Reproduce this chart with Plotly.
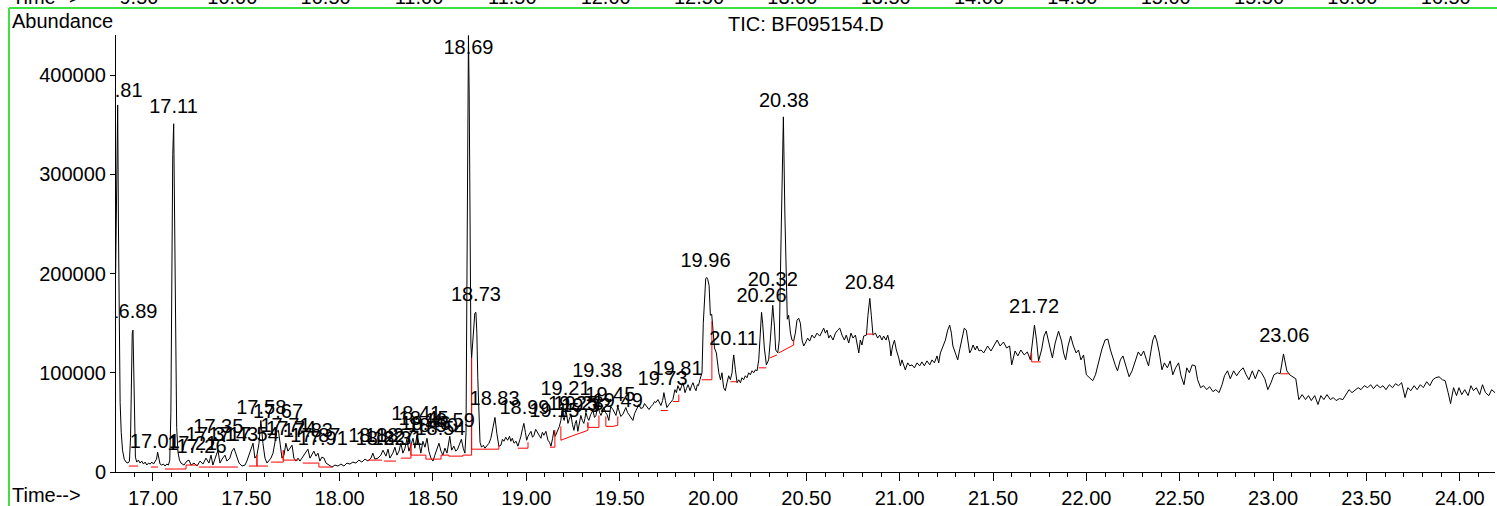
import plotly.graph_objects as go

# ---- TIC trace: (retention time [min], abundance [x1000]) ----
tic_a = [(16.800, 200), (16.806, 340), (16.811, 370), (16.815, 250), (16.819, 110), (16.824, 70),
         (16.830, 40), (16.837, 22), (16.846, 13), (16.856, 10), (16.866, 9), (16.874, 11),
         (16.880, 35), (16.885, 95), (16.889, 140), (16.893, 143), (16.897, 95), (16.901, 40),
         (16.906, 15), (16.913, 10), (16.922, 12), (16.931, 9), (16.940, 11), (16.949, 8),
         (16.958, 10), (16.967, 7), (16.976, 9), (16.985, 8), (16.994, 10), (17.003, 8),
         (17.012, 11), (17.019, 13), (17.025, 20), (17.031, 14), (17.038, 8), (17.047, 7),
         (17.056, 8), (17.065, 6), (17.074, 8), (17.083, 7), (17.090, 12), (17.096, 60),
         (17.101, 200), (17.106, 320), (17.111, 351), (17.116, 250), (17.121, 110), (17.127, 45),
         (17.134, 20), (17.142, 12)]

tic_b = [(17.150, 9), (17.166, 7), (17.182, 11), (17.193, 12), (17.204, 7), (17.220, 9),
         (17.236, 6), (17.252, 11), (17.268, 8), (17.284, 14), (17.300, 9), (17.311, 17),
         (17.321, 7), (17.332, 14), (17.348, 22), (17.359, 9), (17.370, 13), (17.386, 17),
         (17.396, 11), (17.412, 14), (17.423, 21), (17.434, 24), (17.445, 17), (17.461, 9),
         (17.477, 6), (17.493, 7), (17.503, 11), (17.514, 17), (17.525, 24), (17.536, 29),
         (17.546, 14), (17.557, 17), (17.568, 29), (17.578, 52), (17.589, 29), (17.600, 14),
         (17.611, 9), (17.621, 11), (17.632, 14), (17.643, 19), (17.653, 31), (17.664, 41),
         (17.672, 42), (17.680, 29), (17.691, 14), (17.702, 17), (17.712, 29), (17.723, 21),
         (17.734, 24), (17.745, 27), (17.755, 14), (17.766, 11), (17.777, 14), (17.787, 11),
         (17.798, 14), (17.809, 17), (17.819, 21), (17.830, 23), (17.841, 14), (17.852, 17),
         (17.862, 21), (17.873, 16), (17.884, 19), (17.894, 11), (17.905, 15), (17.916, 14),
         (17.927, 9), (17.943, 7)]

tic_c = [(17.959, 5), (17.975, 7), (17.991, 6), (18.007, 8), (18.023, 6), (18.039, 9),
         (18.055, 8), (18.071, 10), (18.087, 9), (18.103, 12), (18.119, 10), (18.136, 13),
         (18.152, 11), (18.168, 14), (18.178, 19), (18.189, 13), (18.205, 14), (18.221, 17),
         (18.232, 22), (18.248, 16), (18.259, 23), (18.269, 14), (18.285, 19), (18.296, 25),
         (18.307, 17), (18.318, 21), (18.328, 29), (18.339, 19), (18.350, 24), (18.360, 33),
         (18.371, 21), (18.382, 27), (18.393, 34), (18.403, 24), (18.414, 37), (18.425, 29),
         (18.435, 19), (18.446, 31), (18.457, 25), (18.468, 34), (18.478, 21), (18.489, 14),
         (18.500, 11), (18.510, 17), (18.521, 22), (18.532, 29), (18.543, 21), (18.553, 17),
         (18.564, 24), (18.575, 19), (18.590, 36), (18.600, 22), (18.612, 26), (18.622, 21),
         (18.632, 23), (18.642, 29), (18.652, 33), (18.662, 24), (18.671, 19)]

tic_d = [(18.677, 40), (18.682, 200), (18.686, 400), (18.690, 440), (18.694, 380), (18.698, 230),
         (18.703, 130), (18.707, 115), (18.712, 130), (18.718, 150), (18.724, 160), (18.730, 161),
         (18.735, 140), (18.740, 95), (18.746, 50), (18.752, 30), (18.760, 25), (18.770, 27),
         (18.778, 24), (18.789, 26), (18.800, 29), (18.810, 34), (18.821, 44), (18.832, 55),
         (18.842, 39), (18.853, 26), (18.864, 27), (18.872, 33), (18.880, 31), (18.890, 35),
         (18.900, 32), (18.910, 36), (18.917, 31), (18.925, 34), (18.934, 29), (18.945, 31),
         (18.955, 26), (18.963, 30), (18.971, 36), (18.980, 44), (18.987, 49), (18.995, 40),
         (19.002, 32), (19.009, 36), (19.017, 39), (19.025, 41), (19.033, 35), (19.041, 37),
         (19.050, 43), (19.062, 39), (19.070, 36), (19.078, 34), (19.086, 40), (19.094, 37),
         (19.105, 41), (19.116, 32), (19.124, 30), (19.132, 26), (19.141, 34), (19.148, 42),
         (19.155, 36), (19.162, 39), (19.170, 44), (19.177, 46), (19.185, 52), (19.191, 62),
         (19.197, 55), (19.203, 52), (19.212, 63), (19.218, 55), (19.223, 49), (19.230, 53),
         (19.239, 58), (19.247, 48), (19.255, 42), (19.262, 49), (19.268, 52), (19.276, 41),
         (19.284, 50), (19.292, 57), (19.300, 52), (19.308, 49), (19.314, 54), (19.319, 60),
         (19.327, 55), (19.335, 52), (19.345, 58), (19.357, 62), (19.365, 55), (19.373, 57),
         (19.383, 68), (19.392, 60), (19.400, 57), (19.408, 61), (19.416, 65), (19.424, 60),
         (19.432, 58), (19.442, 52), (19.452, 66), (19.464, 63), (19.472, 59), (19.480, 57),
         (19.490, 66), (19.496, 62), (19.506, 56), (19.517, 58), (19.525, 62), (19.533, 65),
         (19.542, 60), (19.550, 58), (19.560, 55), (19.571, 52), (19.580, 59), (19.587, 62),
         (19.595, 66), (19.603, 68), (19.613, 64), (19.625, 65), (19.633, 69), (19.641, 67),
         (19.650, 64), (19.657, 63), (19.668, 66), (19.678, 68), (19.687, 71), (19.694, 70),
         (19.705, 73), (19.713, 69), (19.721, 67), (19.730, 72), (19.737, 80), (19.745, 72),
         (19.753, 65), (19.764, 68), (19.775, 71), (19.785, 73), (19.796, 83), (19.804, 80),
         (19.812, 87), (19.818, 84), (19.823, 82), (19.831, 86), (19.839, 90), (19.845, 85),
         (19.850, 80), (19.858, 84), (19.866, 88), (19.872, 85), (19.877, 82), (19.885, 87),
         (19.893, 90), (19.901, 85), (19.909, 82), (19.916, 88), (19.922, 87), (19.930, 93),
         (19.936, 98)]

tic_e = [(19.941, 100), (19.948, 150), (19.954, 171), (19.961, 195), (19.967, 196), (19.972, 194),
         (19.979, 188), (19.986, 158), (19.993, 159), (20.000, 143), (20.008, 125), (20.018, 120),
         (20.024, 108), (20.031, 100), (20.040, 93), (20.048, 100), (20.057, 85), (20.066, 82),
         (20.075, 90), (20.084, 97), (20.093, 93), (20.102, 100), (20.106, 110), (20.111, 118),
         (20.120, 103), (20.129, 90), (20.138, 93), (20.147, 90), (20.155, 95), (20.164, 93),
         (20.173, 97), (20.182, 95), (20.191, 100), (20.200, 98), (20.209, 102), (20.218, 100),
         (20.227, 103), (20.236, 102), (20.245, 113), (20.254, 137), (20.260, 161), (20.266, 150),
         (20.275, 125), (20.286, 108), (20.298, 113), (20.307, 133), (20.314, 160), (20.320, 168),
         (20.329, 147), (20.336, 123), (20.347, 120), (20.355, 133), (20.366, 250), (20.377, 358),
         (20.385, 260), (20.392, 180), (20.398, 154), (20.405, 158), (20.415, 140), (20.423, 133),
         (20.432, 132), (20.441, 140), (20.450, 153), (20.459, 155), (20.468, 150), (20.477, 133),
         (20.486, 127), (20.495, 130), (20.507, 135), (20.518, 132), (20.530, 138), (20.543, 135),
         (20.557, 140), (20.572, 137), (20.584, 142), (20.593, 145), (20.602, 140), (20.611, 143),
         (20.620, 135), (20.629, 138), (20.643, 133), (20.656, 140), (20.668, 143), (20.679, 145),
         (20.691, 138), (20.704, 133), (20.714, 138), (20.727, 130), (20.739, 140), (20.750, 135),
         (20.763, 138), (20.772, 127), (20.781, 120), (20.789, 133), (20.798, 128), (20.807, 137),
         (20.822, 138), (20.830, 158), (20.840, 175), (20.848, 158), (20.857, 138), (20.870, 140),
         (20.882, 135), (20.893, 138), (20.905, 133), (20.914, 137), (20.927, 133), (20.936, 138),
         (20.946, 130), (20.953, 117), (20.962, 127), (20.972, 133), (20.982, 123), (20.995, 115),
         (21.004, 107), (21.012, 113), (21.021, 107), (21.030, 103), (21.043, 110), (21.054, 107),
         (21.066, 108), (21.079, 105), (21.093, 110), (21.107, 107), (21.119, 111), (21.132, 107),
         (21.146, 112), (21.161, 108), (21.173, 113), (21.186, 110), (21.200, 117), (21.209, 110),
         (21.218, 120), (21.232, 127), (21.245, 133), (21.257, 143), (21.268, 148), (21.277, 140),
         (21.285, 127), (21.298, 120), (21.311, 113), (21.321, 123), (21.334, 133), (21.346, 145),
         (21.357, 143), (21.366, 130), (21.375, 120), (21.384, 123), (21.393, 128), (21.405, 123),
         (21.414, 127), (21.425, 122), (21.436, 123), (21.450, 120)]

tic_f = [(21.471, 127), (21.489, 122), (21.507, 128), (21.522, 133), (21.538, 127), (21.556, 131),
         (21.573, 125), (21.589, 127), (21.600, 108), (21.618, 122), (21.633, 117), (21.649, 123),
         (21.667, 118), (21.684, 121), (21.700, 113), (21.711, 133), (21.722, 148), (21.733, 133),
         (21.744, 112), (21.760, 123), (21.773, 137), (21.785, 142), (21.800, 130), (21.818, 115),
         (21.833, 130), (21.851, 142), (21.867, 132), (21.878, 120), (21.889, 113), (21.902, 127),
         (21.916, 137), (21.929, 128), (21.945, 120), (21.958, 123), (21.971, 113), (21.985, 118),
         (22.000, 98), (22.016, 95), (22.034, 92), (22.049, 98), (22.067, 113), (22.082, 123),
         (22.100, 133), (22.115, 134), (22.129, 123), (22.144, 113), (22.156, 107), (22.167, 102),
         (22.182, 113), (22.196, 117), (22.211, 107), (22.229, 96), (22.245, 102), (22.262, 113),
         (22.278, 121), (22.293, 117), (22.307, 122), (22.322, 113), (22.333, 107), (22.347, 123),
         (22.356, 133), (22.367, 138), (22.378, 132), (22.391, 120), (22.405, 103), (22.418, 110),
         (22.434, 105), (22.449, 112), (22.463, 98), (22.478, 105), (22.494, 110), (22.507, 97),
         (22.523, 88), (22.538, 105), (22.552, 100), (22.567, 108), (22.583, 107), (22.596, 93),
         (22.612, 85), (22.627, 87), (22.645, 83), (22.660, 86), (22.678, 81), (22.693, 83),
         (22.711, 80), (22.727, 88), (22.740, 97), (22.756, 102), (22.771, 94), (22.789, 102),
         (22.805, 97), (22.823, 102), (22.840, 105), (22.856, 98), (22.871, 93), (22.889, 102),
         (22.905, 94), (22.923, 103), (22.938, 100), (22.956, 94), (22.972, 83), (22.989, 90),
         (23.005, 98), (23.023, 100), (23.038, 99), (23.056, 119), (23.074, 102), (23.089, 98),
         (23.105, 96), (23.122, 94), (23.138, 73), (23.156, 78), (23.174, 73), (23.190, 77),
         (23.205, 72), (23.223, 77), (23.241, 68), (23.256, 77), (23.272, 73), (23.289, 78),
         (23.307, 73), (23.323, 75), (23.338, 72), (23.356, 74), (23.374, 73), (23.389, 77),
         (23.407, 83), (23.423, 80), (23.440, 83), (23.456, 85), (23.471, 83), (23.489, 87),
         (23.507, 85), (23.523, 88), (23.538, 84), (23.556, 88), (23.574, 85), (23.589, 87),
         (23.605, 83), (23.623, 88), (23.640, 85), (23.656, 89), (23.672, 87), (23.689, 90),
         (23.707, 75), (23.722, 85), (23.738, 82), (23.756, 87), (23.772, 83), (23.789, 88),
         (23.805, 85), (23.823, 91), (23.840, 87), (23.856, 93), (23.871, 95), (23.889, 96),
         (23.907, 93), (23.922, 92), (23.938, 80), (23.951, 69), (23.967, 85), (23.983, 77),
         (23.996, 85), (24.011, 78), (24.027, 83), (24.045, 77), (24.060, 87), (24.074, 82),
         (24.089, 85), (24.107, 78), (24.122, 88), (24.138, 80), (24.156, 77), (24.171, 83),
         (24.189, 80), (24.205, 77)]

# ---- integration baselines (red), each a polyline of (time, abundance x1000) ----
baseline_segments = [
    [(16.871, 6), (16.920, 6)],
    [(16.989, 5), (17.027, 5)],
    [(17.064, 3), (17.177, 3), (17.177, 7), (17.241, 7)],
    [(17.246, 5), (17.455, 5)],
    [(17.514, 6), (17.557, 6), (17.557, 17), (17.557, 6), (17.616, 6)],
    [(17.632, 10), (17.698, 10), (17.698, 22), (17.698, 12), (17.777, 12)],
    [(17.803, 9), (17.889, 9), (17.889, 5), (17.964, 5)],
    [(18.152, 12), (18.227, 12)],
    [(18.237, 11), (18.302, 11)],
    [(18.328, 14), (18.382, 14), (18.382, 29), (18.382, 17), (18.462, 17), (18.462, 13),
     (18.543, 13), (18.543, 17), (18.585, 17), (18.585, 16), (18.660, 16), (18.660, 17),
     (18.707, 17), (18.707, 115), (18.707, 23), (18.853, 23), (18.853, 27)],
    [(18.955, 24), (19.009, 24), (19.009, 30)],
    [(19.126, 25), (19.153, 25), (19.153, 42)],
    [(19.185, 46), (19.185, 32), (19.255, 37), (19.330, 42), (19.330, 50), (19.330, 45),
     (19.389, 45), (19.389, 57)],
    [(19.426, 56), (19.426, 46), (19.464, 46), (19.490, 47), (19.490, 56)],
    [(19.721, 62), (19.758, 62)],
    [(19.785, 71), (19.817, 71), (19.817, 78)],
    [(19.940, 93), (19.994, 93), (19.994, 152)],
    [(20.093, 91), (20.129, 91)],
    [(20.245, 105), (20.286, 105)],
    [(20.304, 115), (20.343, 118)],
    [(20.352, 120), (20.432, 128), (20.432, 133)],
    [(20.822, 139), (20.861, 139)],
    [(21.707, 120), (21.707, 111), (21.756, 111)],
    [(23.041, 99), (23.089, 99)],
]

# ---- peak labels: text, retention time, label height (abundance x1000) ----
peak_labels = ["16.81", "16.89", "17.11", "17.01", "17.21", "17.26", "17.31", "17.35", "17.43",
               "17.54", "17.58", "17.67", "17.71", "17.74", "17.83", "17.87", "17.91",
               "18.18", "18.22", "18.27", "18.31", "18.41", "18.45", "18.46", "18.50", "18.54",
               "18.59", "18.69", "18.73", "18.83", "18.99", "19.15", "19.21", "19.25", "19.28",
               "19.32", "19.38", "19.45", "19.49", "19.73", "19.81", "19.96", "20.11", "20.26",
               "20.32", "20.38", "20.84", "21.72", "23.06"]
label_height = [383, 160, 367, 29, 27, 24, 36, 44, 36,
                36, 64, 59, 45, 42, 40, 35, 32,
                35, 32, 35, 32, 57, 52, 47, 45, 42,
                50, 426, 177, 73, 64, 60, 83, 68, 68,
                66, 101, 77, 71, 93, 103, 212, 133, 176,
                193, 373, 190, 165, 136]

y_ticks = [0, 100000, 200000, 300000, 400000]
y_tick_text = ["0", "100000", "200000", "300000", "400000"]
upper_panel_ticks = [9.5, 10.0, 10.5, 11.0, 11.5, 12.0, 12.5, 13.0, 13.5, 14.0, 14.5, 15.0, 15.5, 16.0, 16.5]

x_range = [16.802, 24.189]
upper_x_range = [9.377, 16.764]
y_range = [0, 440500]

FONT = "Arial, 'Liberation Sans', sans-serif"

segments = [tic_a, tic_b, tic_c, tic_d, tic_e, tic_f]
rt = [p[0] for s in segments for p in s]
ab = [p[1] * 1000 for s in segments for p in s]

bx, by = [], []
for seg in baseline_segments:
    for t, a in seg:
        bx.append(t)
        by.append(a * 1000)
    bx.append(None)
    by.append(None)

fig = go.Figure()
fig.add_trace(go.Scatter(x=rt, y=ab, mode="lines", line=dict(color="black", width=1),
                         hoverinfo="skip", showlegend=False))
fig.add_trace(go.Scatter(x=bx, y=by, mode="lines", line=dict(color="#ff0000", width=1),
                         hoverinfo="skip", showlegend=False, connectgaps=False))
fig.add_trace(go.Scatter(x=[float(s) for s in peak_labels], y=[v * 1000 for v in label_height],
                         mode="text", text=peak_labels, textposition="middle center",
                         textfont=dict(family=FONT, size=20, color="black"),
                         cliponaxis=True, hoverinfo="skip", showlegend=False))
# invisible trace holding the upper (cut-off) panel's time axis
fig.add_trace(go.Scatter(x=[upper_panel_ticks[0], upper_panel_ticks[-1]], y=[None, None],
                         xaxis="x2", mode="lines", hoverinfo="skip", showlegend=False))

GREEN = "rgb(64,224,64)"
PW, PH = 1497 - 116 - 2, 506 - 35 - 34
fig.update_layout(
    width=1497, height=506,
    margin=dict(l=116, r=2, t=35, b=34, pad=0, autoexpand=False),
    paper_bgcolor="white", plot_bgcolor="white",
    font=dict(family=FONT, size=20, color="black"),
    showlegend=False,
    xaxis=dict(range=x_range, tick0=17, dtick=0.5, tickformat=".2f", ticks="outside",
               ticklen=8, tickwidth=1, tickcolor="black", showline=True, linecolor="black",
               linewidth=1, showgrid=False, zeroline=False, automargin=False,
               tickfont=dict(family=FONT, size=20, color="black"),
               minor=dict(tick0=17, dtick=0.1, ticks="outside", ticklen=4, tickwidth=1,
                          tickcolor="black", showgrid=False)),
    xaxis2=dict(range=upper_x_range, overlaying="x", side="top", tickmode="array",
                tickvals=upper_panel_ticks, ticktext=["%.2f" % v for v in upper_panel_ticks],
                ticks="", showline=False, showgrid=False, zeroline=False, automargin=False,
                ticklabelstandoff=26, tickfont=dict(family=FONT, size=20, color="black")),
    yaxis=dict(range=y_range, tickmode="array", tickvals=y_ticks, ticktext=y_tick_text,
               ticks="outside", ticklen=5, tickwidth=1, tickcolor="black", showline=True,
               linecolor="black", linewidth=1, showgrid=False, zeroline=False, automargin=False,
               tickfont=dict(family=FONT, size=20, color="black")),
    annotations=[
        dict(text="Abundance", xref="paper", yref="paper", x=(10 - 116) / PW, y=1 + (35 - 21) / PH,
             xanchor="left", yanchor="middle", showarrow=False, font=dict(size=20)),
        dict(text="TIC: BF095154.D", xref="paper", yref="paper", x=0.5, y=1 + (35 - 24) / PH,
             xanchor="center", yanchor="middle", showarrow=False, font=dict(size=20)),
        dict(text="Time-->", xref="paper", yref="paper", x=(10 - 116) / PW, y=-(495 - 472) / PH,
             xanchor="left", yanchor="middle", showarrow=False, font=dict(size=20)),
        dict(text="Time-->", xref="paper", yref="paper", x=(10 - 116) / PW, y=1 + (35 + 3) / PH,
             xanchor="left", yanchor="middle", showarrow=False, font=dict(size=20)),
    ],
    shapes=[
        dict(type="line", xref="paper", yref="paper", x0=(9 - 116) / PW, x1=(9 - 116) / PW,
             y0=-34 / PH - 0.01, y1=1 + 27 / PH, line=dict(color=GREEN, width=2)),
        dict(type="line", xref="paper", yref="paper", x0=(9 - 116) / PW, x1=1.01,
             y0=1 + 27 / PH, y1=1 + 27 / PH, line=dict(color=GREEN, width=2)),
    ],
)

fig.write_html("out.html", config={"displayModeBar": False},
               post_script="document.body.style.margin='0';")
